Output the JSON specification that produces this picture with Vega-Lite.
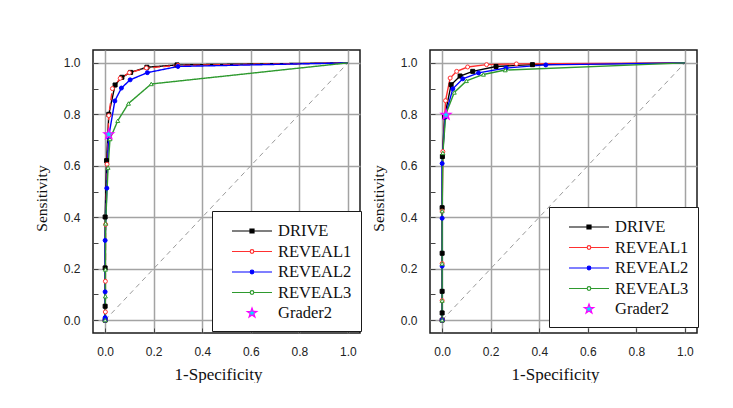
{
  "$schema": "https://vega.github.io/schema/vega-lite/v6.json",
  "background": "white",
  "padding": {"left": 33, "top": 49, "right": 0, "bottom": 0},
  "spacing": 7,
  "datasets": {
    "diag": [{"x": 0, "y": 0}, {"x": 1, "y": 1}],
    "roc": [
      {"panel": "A", "series": "DRIVE", "i": 0, "x": 0, "y": 0},
      {"panel": "A", "series": "DRIVE", "i": 1, "x": 0, "y": 0.054},
      {"panel": "A", "series": "DRIVE", "i": 2, "x": 0, "y": 0.203},
      {"panel": "A", "series": "DRIVE", "i": 3, "x": 0, "y": 0.401},
      {"panel": "A", "series": "DRIVE", "i": 4, "x": 0.006, "y": 0.62},
      {"panel": "A", "series": "DRIVE", "i": 5, "x": 0.015, "y": 0.8},
      {"panel": "A", "series": "DRIVE", "i": 6, "x": 0.041, "y": 0.914},
      {"panel": "A", "series": "DRIVE", "i": 7, "x": 0.069, "y": 0.944},
      {"panel": "A", "series": "DRIVE", "i": 8, "x": 0.105, "y": 0.963},
      {"panel": "A", "series": "DRIVE", "i": 9, "x": 0.172, "y": 0.983},
      {"panel": "A", "series": "DRIVE", "i": 10, "x": 0.296, "y": 0.992},
      {"panel": "A", "series": "DRIVE", "i": 11, "x": 1, "y": 1},
      {"panel": "A", "series": "REVEAL1", "i": 0, "x": 0, "y": 0},
      {"panel": "A", "series": "REVEAL1", "i": 1, "x": 0.001, "y": 0.032},
      {"panel": "A", "series": "REVEAL1", "i": 2, "x": 0.001, "y": 0.151},
      {"panel": "A", "series": "REVEAL1", "i": 3, "x": 0.002, "y": 0.372},
      {"panel": "A", "series": "REVEAL1", "i": 4, "x": 0.008, "y": 0.606},
      {"panel": "A", "series": "REVEAL1", "i": 5, "x": 0.015, "y": 0.795},
      {"panel": "A", "series": "REVEAL1", "i": 6, "x": 0.03, "y": 0.9},
      {"panel": "A", "series": "REVEAL1", "i": 7, "x": 0.062, "y": 0.94},
      {"panel": "A", "series": "REVEAL1", "i": 8, "x": 0.1, "y": 0.962},
      {"panel": "A", "series": "REVEAL1", "i": 9, "x": 0.17, "y": 0.98},
      {"panel": "A", "series": "REVEAL1", "i": 10, "x": 0.3, "y": 0.99},
      {"panel": "A", "series": "REVEAL1", "i": 11, "x": 1, "y": 1},
      {"panel": "A", "series": "REVEAL2", "i": 0, "x": 0, "y": 0},
      {"panel": "A", "series": "REVEAL2", "i": 1, "x": 0, "y": 0.01},
      {"panel": "A", "series": "REVEAL2", "i": 2, "x": 0, "y": 0.11},
      {"panel": "A", "series": "REVEAL2", "i": 3, "x": 0, "y": 0.31},
      {"panel": "A", "series": "REVEAL2", "i": 4, "x": 0.007, "y": 0.513},
      {"panel": "A", "series": "REVEAL2", "i": 5, "x": 0.014, "y": 0.71},
      {"panel": "A", "series": "REVEAL2", "i": 6, "x": 0.04, "y": 0.852},
      {"panel": "A", "series": "REVEAL2", "i": 7, "x": 0.067, "y": 0.902},
      {"panel": "A", "series": "REVEAL2", "i": 8, "x": 0.103, "y": 0.934},
      {"panel": "A", "series": "REVEAL2", "i": 9, "x": 0.174, "y": 0.962},
      {"panel": "A", "series": "REVEAL2", "i": 10, "x": 0.3, "y": 0.986},
      {"panel": "A", "series": "REVEAL2", "i": 11, "x": 1, "y": 1},
      {"panel": "A", "series": "REVEAL3", "i": 0, "x": 0, "y": 0},
      {"panel": "A", "series": "REVEAL3", "i": 1, "x": 0.001, "y": 0.093},
      {"panel": "A", "series": "REVEAL3", "i": 2, "x": 0.001, "y": 0.197},
      {"panel": "A", "series": "REVEAL3", "i": 3, "x": 0.002, "y": 0.376},
      {"panel": "A", "series": "REVEAL3", "i": 4, "x": 0.012, "y": 0.593},
      {"panel": "A", "series": "REVEAL3", "i": 5, "x": 0.02, "y": 0.704},
      {"panel": "A", "series": "REVEAL3", "i": 6, "x": 0.052, "y": 0.775},
      {"panel": "A", "series": "REVEAL3", "i": 7, "x": 0.096, "y": 0.842},
      {"panel": "A", "series": "REVEAL3", "i": 8, "x": 0.19, "y": 0.918},
      {"panel": "A", "series": "REVEAL3", "i": 9, "x": 1, "y": 1},
      {"panel": "A", "series": "Grader2", "i": 0, "x": 0.015, "y": 0.722},
      {"panel": "B", "series": "DRIVE", "i": 0, "x": 0, "y": 0},
      {"panel": "B", "series": "DRIVE", "i": 1, "x": 0, "y": 0.028},
      {"panel": "B", "series": "DRIVE", "i": 2, "x": 0, "y": 0.112},
      {"panel": "B", "series": "DRIVE", "i": 3, "x": 0, "y": 0.26},
      {"panel": "B", "series": "DRIVE", "i": 4, "x": 0, "y": 0.437},
      {"panel": "B", "series": "DRIVE", "i": 5, "x": 0.001, "y": 0.636},
      {"panel": "B", "series": "DRIVE", "i": 6, "x": 0.01, "y": 0.79},
      {"panel": "B", "series": "DRIVE", "i": 7, "x": 0.037, "y": 0.915},
      {"panel": "B", "series": "DRIVE", "i": 8, "x": 0.074, "y": 0.949},
      {"panel": "B", "series": "DRIVE", "i": 9, "x": 0.126, "y": 0.967},
      {"panel": "B", "series": "DRIVE", "i": 10, "x": 0.222, "y": 0.986},
      {"panel": "B", "series": "DRIVE", "i": 11, "x": 0.372, "y": 0.993},
      {"panel": "B", "series": "DRIVE", "i": 12, "x": 1, "y": 1},
      {"panel": "B", "series": "REVEAL1", "i": 0, "x": 0, "y": 0},
      {"panel": "B", "series": "REVEAL1", "i": 1, "x": 0, "y": 0.076},
      {"panel": "B", "series": "REVEAL1", "i": 2, "x": 0, "y": 0.22},
      {"panel": "B", "series": "REVEAL1", "i": 3, "x": 0, "y": 0.424},
      {"panel": "B", "series": "REVEAL1", "i": 4, "x": 0.003, "y": 0.655},
      {"panel": "B", "series": "REVEAL1", "i": 5, "x": 0.014, "y": 0.853},
      {"panel": "B", "series": "REVEAL1", "i": 6, "x": 0.033, "y": 0.941},
      {"panel": "B", "series": "REVEAL1", "i": 7, "x": 0.06, "y": 0.967},
      {"panel": "B", "series": "REVEAL1", "i": 8, "x": 0.105, "y": 0.984},
      {"panel": "B", "series": "REVEAL1", "i": 9, "x": 0.183, "y": 0.993},
      {"panel": "B", "series": "REVEAL1", "i": 10, "x": 0.306, "y": 0.996},
      {"panel": "B", "series": "REVEAL1", "i": 11, "x": 1, "y": 1},
      {"panel": "B", "series": "REVEAL2", "i": 0, "x": 0, "y": 0},
      {"panel": "B", "series": "REVEAL2", "i": 1, "x": 0, "y": 0.21},
      {"panel": "B", "series": "REVEAL2", "i": 2, "x": 0, "y": 0.396},
      {"panel": "B", "series": "REVEAL2", "i": 3, "x": 0, "y": 0.609},
      {"panel": "B", "series": "REVEAL2", "i": 4, "x": 0.012, "y": 0.79},
      {"panel": "B", "series": "REVEAL2", "i": 5, "x": 0.044, "y": 0.899},
      {"panel": "B", "series": "REVEAL2", "i": 6, "x": 0.085, "y": 0.938},
      {"panel": "B", "series": "REVEAL2", "i": 7, "x": 0.15, "y": 0.961},
      {"panel": "B", "series": "REVEAL2", "i": 8, "x": 0.263, "y": 0.98},
      {"panel": "B", "series": "REVEAL2", "i": 9, "x": 0.427, "y": 0.992},
      {"panel": "B", "series": "REVEAL2", "i": 10, "x": 1, "y": 1},
      {"panel": "B", "series": "REVEAL3", "i": 0, "x": 0, "y": 0},
      {"panel": "B", "series": "REVEAL3", "i": 1, "x": 0, "y": 0.076},
      {"panel": "B", "series": "REVEAL3", "i": 2, "x": 0, "y": 0.22},
      {"panel": "B", "series": "REVEAL3", "i": 3, "x": 0, "y": 0.424},
      {"panel": "B", "series": "REVEAL3", "i": 4, "x": 0.003, "y": 0.65},
      {"panel": "B", "series": "REVEAL3", "i": 5, "x": 0.015, "y": 0.8},
      {"panel": "B", "series": "REVEAL3", "i": 6, "x": 0.05, "y": 0.885},
      {"panel": "B", "series": "REVEAL3", "i": 7, "x": 0.1, "y": 0.93},
      {"panel": "B", "series": "REVEAL3", "i": 8, "x": 0.17, "y": 0.955},
      {"panel": "B", "series": "REVEAL3", "i": 9, "x": 0.26, "y": 0.972},
      {"panel": "B", "series": "REVEAL3", "i": 10, "x": 1, "y": 1},
      {"panel": "B", "series": "Grader2", "i": 0, "x": 0.016, "y": 0.798}
    ]
  },
  "config": {
    "view": {"stroke": "#1a1a1a", "strokeWidth": 1.5},
    "axis": {
      "domain": false,
      "values": [0, 0.1, 0.2, 0.3, 0.4, 0.5, 0.6, 0.7, 0.8, 0.9, 1.0],
      "labelExpr": "round(datum.value*10) % 2 === 0 ? format(datum.value, '.1f') : ''",
      "gridOpacity": {"condition": {"test": "round(datum.value*10) % 2 === 0", "value": 1}, "value": 0},
      "gridColor": "#a3a3a3",
      "gridWidth": 1.5,
      "tickSize": -5,
      "tickColor": "#444444",
      "tickWidth": 1,
      "labelPadding": 18,
      "labelFont": "Liberation Sans",
      "labelFontSize": 12,
      "labelColor": "#222222",
      "titleFont": "Liberation Serif",
      "titleFontWeight": "normal",
      "titleColor": "#111111"
    },
    "legend": {
      "orient": "none",
      "title": null,
      "fillColor": "white",
      "strokeColor": "#1a1a1a",
      "strokeWidth": 1,
      "cornerRadius": 0,
      "padding": 9,
      "symbolSize": 400,
      "symbolOffset": 20,
      "labelOffset": 15,
      "rowPadding": 0.5,
      "symbolStrokeWidth": 1.2,
      "labelFont": "Liberation Serif",
      "labelFontSize": 16.5,
      "labelColor": "#111111",
      "labelLimit": 200
    }
  },
  "resolve": {"legend": {"color": "independent"}},
  "hconcat": [
    {
      "width": 267,
      "height": 283,
      "layer": [
        {
          "data": {"name": "diag"},
          "mark": {"type": "line", "color": "#9a9a9a", "strokeDash": [5, 4], "strokeWidth": 1},
          "encoding": {
            "x": {"field": "x", "type": "quantitative", "scale": {"domain": [-0.05, 1.05], "nice": false, "zero": false},
                  "axis": {"title": "1-Specificity", "titleFontSize": 17, "titlePadding": 9, "titleX": 125}},
            "y": {"field": "y", "type": "quantitative", "scale": {"domain": [-0.05, 1.05], "nice": false, "zero": false},
                  "axis": {"title": "Sensitivity", "titleFontSize": 15.5, "titlePadding": 14, "titleY": 148}}
          }
        },
        {
          "data": {"name": "roc"},
          "transform": [{"filter": "datum.panel === 'A' && datum.series !== 'Grader2'"}],
          "mark": {"type": "line", "strokeWidth": 1.4},
          "encoding": {
            "x": {"field": "x", "type": "quantitative"},
            "y": {"field": "y", "type": "quantitative"},
            "order": {"field": "i", "type": "quantitative"},
            "color": {"field": "series", "type": "nominal",
              "scale": {"domain": ["DRIVE", "REVEAL1", "REVEAL2", "REVEAL3", "Grader2"], "range": ["#000000", "#ff3030", "#0000ff", "#2e9a2e", "#ff00ff"]},
              "legend": {"legendX": 119, "legendY": 161,
                "encode": {"symbols": {"update": {
                  "shape": {"signal": "datum.value === 'Grader2' ? 'M0,-0.5L0.118,-0.162L0.476,-0.155L0.19,0.062L0.294,0.405L0,0.2L-0.294,0.405L-0.19,0.062L-0.476,-0.155L-0.118,-0.162Z' : datum.value === 'DRIVE' ? 'M-2,0L2,0M-0.2,-0.2L0.2,-0.2L0.2,0.2L-0.2,0.2Z' : 'M-2,0L-0.18,0M0.18,0L2,0M0.18,0A0.18,0.18 0 1,1 -0.18,0A0.18,0.18 0 1,1 0.18,0Z'"},
                  "fill": {"signal": "datum.value === 'Grader2' ? '#00e5ff' : datum.value === 'DRIVE' ? '#000000' : datum.value === 'REVEAL2' ? '#0000ff' : '#ffffff'"},
                  "stroke": {"signal": "datum.value === 'Grader2' ? '#ff00ff' : datum.value === 'DRIVE' ? '#000000' : datum.value === 'REVEAL1' ? '#ff3030' : datum.value === 'REVEAL2' ? '#0000ff' : '#2e9a2e'"},
                  "opacity": {"value": 1}
                }}}}
            },
            "strokeDash": {"field": "series", "type": "nominal",
              "scale": {"domain": ["DRIVE", "REVEAL1", "REVEAL2", "REVEAL3"], "range": [[1, 0], [7, 3], [1, 0], [1, 0]]},
              "legend": null}
          }
        },
        {
          "data": {"name": "roc"},
          "transform": [{"filter": "datum.panel === 'A' && datum.series !== 'Grader2' && datum.x < 0.5"}],
          "mark": {"type": "point", "size": 16, "strokeWidth": 1, "opacity": 1},
          "encoding": {
            "x": {"field": "x", "type": "quantitative"},
            "y": {"field": "y", "type": "quantitative"},
            "shape": {"field": "series", "type": "nominal", "scale": {"domain": ["DRIVE", "REVEAL1", "REVEAL2", "REVEAL3"], "range": ["square", "circle", "circle", "triangle-up"]}, "legend": null},
            "fill": {"field": "series", "type": "nominal", "scale": {"domain": ["DRIVE", "REVEAL1", "REVEAL2", "REVEAL3"], "range": ["#000000", "#ffffff", "#0000ff", "#ffffff"]}, "legend": null},
            "stroke": {"field": "series", "type": "nominal", "scale": {"domain": ["DRIVE", "REVEAL1", "REVEAL2", "REVEAL3"], "range": ["#000000", "#ff3030", "#0000ff", "#2e9a2e"]}, "legend": null}
          }
        },
        {
          "data": {"name": "roc"},
          "transform": [{"filter": "datum.panel === 'A' && datum.series === 'Grader2'"}],
          "mark": {"type": "point", "shape": "M0,-1L0.235,-0.324L0.951,-0.309L0.38,0.124L0.588,0.809L0,0.4L-0.588,0.809L-0.38,0.124L-0.951,-0.309L-0.235,-0.324Z", "size": 110, "filled": true, "fill": "#00e5ff", "stroke": "#ff00ff", "strokeWidth": 1.2, "opacity": 1},
          "encoding": {
            "x": {"field": "x", "type": "quantitative"},
            "y": {"field": "y", "type": "quantitative"}
          }
        }
      ]
    },
    {
      "width": 267,
      "height": 283,
      "layer": [
        {
          "data": {"name": "diag"},
          "mark": {"type": "line", "color": "#9a9a9a", "strokeDash": [5, 4], "strokeWidth": 1},
          "encoding": {
            "x": {"field": "x", "type": "quantitative", "scale": {"domain": [-0.05, 1.05], "nice": false, "zero": false},
                  "axis": {"title": "1-Specificity", "titleFontSize": 17, "titlePadding": 9, "titleX": 125}},
            "y": {"field": "y", "type": "quantitative", "scale": {"domain": [-0.05, 1.05], "nice": false, "zero": false},
                  "axis": {"title": "Sensitivity", "titleFontSize": 15.5, "titlePadding": 14, "titleY": 148}}
          }
        },
        {
          "data": {"name": "roc"},
          "transform": [{"filter": "datum.panel === 'B' && datum.series !== 'Grader2'"}],
          "mark": {"type": "line", "strokeWidth": 1.4},
          "encoding": {
            "x": {"field": "x", "type": "quantitative"},
            "y": {"field": "y", "type": "quantitative"},
            "order": {"field": "i", "type": "quantitative"},
            "color": {"field": "series", "type": "nominal",
              "scale": {"domain": ["DRIVE", "REVEAL1", "REVEAL2", "REVEAL3", "Grader2"], "range": ["#000000", "#ff3030", "#0000ff", "#2e9a2e", "#ff00ff"]},
              "legend": {"legendX": 119, "legendY": 157,
                "encode": {"symbols": {"update": {
                  "shape": {"signal": "datum.value === 'Grader2' ? 'M0,-0.5L0.118,-0.162L0.476,-0.155L0.19,0.062L0.294,0.405L0,0.2L-0.294,0.405L-0.19,0.062L-0.476,-0.155L-0.118,-0.162Z' : datum.value === 'DRIVE' ? 'M-2,0L2,0M-0.2,-0.2L0.2,-0.2L0.2,0.2L-0.2,0.2Z' : 'M-2,0L-0.18,0M0.18,0L2,0M0.18,0A0.18,0.18 0 1,1 -0.18,0A0.18,0.18 0 1,1 0.18,0Z'"},
                  "fill": {"signal": "datum.value === 'Grader2' ? '#00e5ff' : datum.value === 'DRIVE' ? '#000000' : datum.value === 'REVEAL2' ? '#0000ff' : '#ffffff'"},
                  "stroke": {"signal": "datum.value === 'Grader2' ? '#ff00ff' : datum.value === 'DRIVE' ? '#000000' : datum.value === 'REVEAL1' ? '#ff3030' : datum.value === 'REVEAL2' ? '#0000ff' : '#2e9a2e'"},
                  "opacity": {"value": 1}
                }}}}
            }
          }
        },
        {
          "data": {"name": "roc"},
          "transform": [{"filter": "datum.panel === 'B' && datum.series !== 'Grader2' && datum.x < 0.5"}],
          "mark": {"type": "point", "size": 16, "strokeWidth": 1, "opacity": 1},
          "encoding": {
            "x": {"field": "x", "type": "quantitative"},
            "y": {"field": "y", "type": "quantitative"},
            "shape": {"field": "series", "type": "nominal", "scale": {"domain": ["DRIVE", "REVEAL1", "REVEAL2", "REVEAL3"], "range": ["square", "circle", "circle", "triangle-up"]}, "legend": null},
            "fill": {"field": "series", "type": "nominal", "scale": {"domain": ["DRIVE", "REVEAL1", "REVEAL2", "REVEAL3"], "range": ["#000000", "#ffffff", "#0000ff", "#ffffff"]}, "legend": null},
            "stroke": {"field": "series", "type": "nominal", "scale": {"domain": ["DRIVE", "REVEAL1", "REVEAL2", "REVEAL3"], "range": ["#000000", "#ff3030", "#0000ff", "#2e9a2e"]}, "legend": null}
          }
        },
        {
          "data": {"name": "roc"},
          "transform": [{"filter": "datum.panel === 'B' && datum.series === 'Grader2'"}],
          "mark": {"type": "point", "shape": "M0,-1L0.235,-0.324L0.951,-0.309L0.38,0.124L0.588,0.809L0,0.4L-0.588,0.809L-0.38,0.124L-0.951,-0.309L-0.235,-0.324Z", "size": 110, "filled": true, "fill": "#00e5ff", "stroke": "#ff00ff", "strokeWidth": 1.2, "opacity": 1},
          "encoding": {
            "x": {"field": "x", "type": "quantitative"},
            "y": {"field": "y", "type": "quantitative"}
          }
        }
      ]
    }
  ]
}
